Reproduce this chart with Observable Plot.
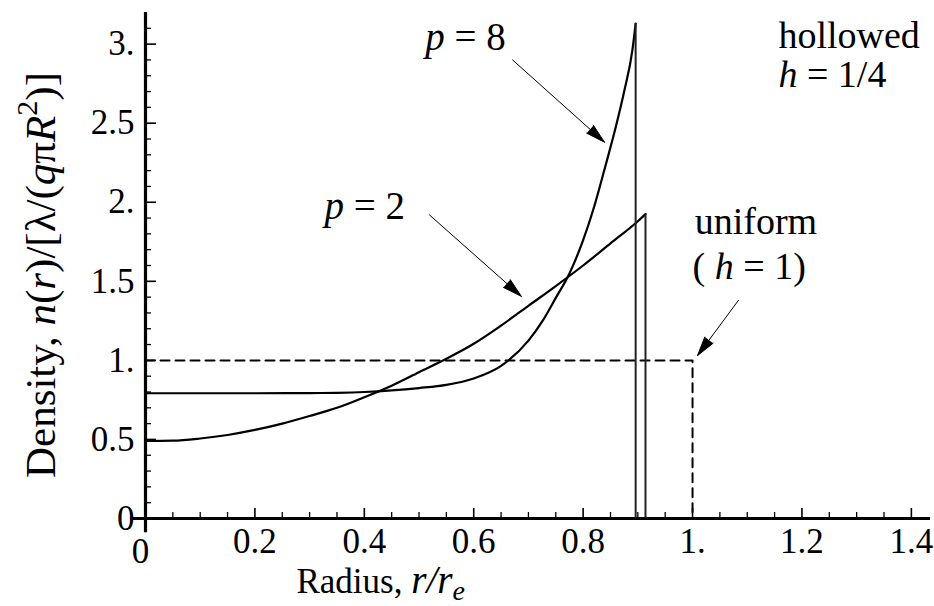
<!DOCTYPE html>
<html><head><meta charset="utf-8">
<script src="https://cdn.jsdelivr.net/npm/d3@7"></script>
<script src="https://cdn.jsdelivr.net/npm/@observablehq/plot@0.6"></script>
<style>
body{margin:0;background:#fff;}
#chart svg{display:block;}
#chart svg, #chart svg text, #chart svg tspan { font-family: "Liberation Serif", "DejaVu Serif", serif; }
</style></head><body><div id="chart"></div>
<script>
// ---- data ----
const radiusP2  = [0, 0.05, 0.1, 0.15, 0.2, 0.25, 0.3, 0.35, 0.4, 0.45, 0.5, 0.55, 0.6, 0.65, 0.7, 0.75, 0.8, 0.85, 0.9, 0.914];
const densityP2 = [0.49, 0.492, 0.506, 0.528, 0.56, 0.60, 0.648, 0.70, 0.767, 0.84, 0.925, 1.01, 1.105, 1.22, 1.345, 1.47, 1.60, 1.74, 1.88, 1.925];

const radiusP8  = [0, 0.1, 0.2, 0.3, 0.35, 0.4, 0.45, 0.5, 0.55, 0.6, 0.65, 0.7, 0.725, 0.75, 0.775, 0.8, 0.82, 0.84, 0.86, 0.875, 0.89, 0.896];
const densityP8 = [0.792, 0.792, 0.792, 0.793, 0.795, 0.80, 0.81, 0.825, 0.845, 0.885, 0.965, 1.125, 1.245, 1.395, 1.55, 1.76, 1.97, 2.22, 2.48, 2.70, 2.96, 3.13];

const radiusUniform  = [0, 1, 1];
const densityUniform = [1, 1, 0];

const xMajorTicks = [0, 0.2, 0.4, 0.6, 0.8, 1.0, 1.2, 1.4];
const xTickLabels = ["0", "0.2", "0.4", "0.6", "0.8", "1.", "1.2", "1.4"];
const xMinorTicks = [0.05, 0.1, 0.15, 0.25, 0.3, 0.35, 0.45, 0.5, 0.55, 0.65, 0.7, 0.75, 0.85, 0.9, 0.95, 1.05, 1.1, 1.15, 1.25, 1.3, 1.35];
const yMajorTicks = [0, 0.5, 1.0, 1.5, 2.0, 2.5, 3.0];
const yTickLabels = ["0", "0.5", "1.", "1.5", "2.", "2.5", "3."];
const yMinorTicks = [0.1, 0.2, 0.3, 0.4, 0.6, 0.7, 0.8, 0.9, 1.1, 1.2, 1.3, 1.4, 1.6, 1.7, 1.8, 1.9, 2.1, 2.2, 2.3, 2.4, 2.6, 2.7, 2.8, 2.9, 3.1];

// annotations ({..} italic, ^[..] superscript, _[..] subscript)
const centerLabels  = ["{p} = 8", "{p} = 2"];
const centerLabelX  = [0.585, 0.401];
const centerLabelY  = [3.04, 1.975];
const startLabels   = ["hollowed", "{h} = 1/4", "uniform", "( {h} = 1)"];
const startLabelX   = [1.157, 1.157, 1.004, 1.0];
const startLabelY   = [3.05, 2.805, 1.875, 1.59];

const arrowX1 = [0.671, 0.519, 1.084];
const arrowY1 = [2.90, 1.92, 1.38];
const arrowX2 = [0.839, 0.687, 1.009];
const arrowY2 = [2.38, 1.405, 1.03];

const xAxisExtent = [-0.027, 1.435];
const yAxisExtent = [-0.09, 3.2];

const xTitle = "Radius, {r/r}_[e]";
const yTitle = "Density, {n}({r})/[λ/({q}π{R}^[2])]";
const xTitleX = 0.43;
const yTitleY = 1.54;

// ---- build tables ----
const p2 = radiusP2.map((r, i) => ({r, n: densityP2[i]}));
const p8 = radiusP8.map((r, i) => ({r, n: densityP8[i]}));
const uni = radiusUniform.map((r, i) => ({r, n: densityUniform[i]}));
const drops = [p2[p2.length - 1], p8[p8.length - 1]];
const arrows = arrowX1.map((x1, i) => ({x1, y1: arrowY1[i], x2: arrowX2[i], y2: arrowY2[i]}));
const cLab = centerLabels.map((t, i) => ({t, x: centerLabelX[i], y: centerLabelY[i]}));
const sLab = startLabels.map((t, i) => ({t, x: startLabelX[i], y: startLabelY[i]}));

const font = "Liberation Serif";

const chart = Plot.plot({
  width: 934, height: 606,
  marginLeft: 145, marginRight: 4, marginTop: 12, marginBottom: 88,
  x: {domain: [0, 1.435]},
  y: {domain: [0, 3.2]},
  style: {fontFamily: font, fontSize: "32px", color: "black", background: "white", overflow: "visible"},
  marks: [
    // axis lines
    Plot.ruleY([0], {x1: xAxisExtent[0], x2: xAxisExtent[1], strokeWidth: 3.2, stroke: "black"}),
    Plot.ruleX([0], {y1: yAxisExtent[0], y2: yAxisExtent[1], strokeWidth: 3.2, stroke: "black"}),
    // inward ticks
    Plot.axisX(xMinorTicks, {tickSize: 6, dy: -6, text: null, label: null, strokeWidth: 1.3}),
    Plot.axisX(xMajorTicks.slice(1), {tickSize: 10, dy: -10, text: null, label: null, strokeWidth: 1.6}),
    Plot.axisY(yMinorTicks, {tickSize: 6, dx: 6, text: null, label: null, strokeWidth: 1.3}),
    Plot.axisY(yMajorTicks.slice(1), {tickSize: 11, dx: 11, text: null, label: null, strokeWidth: 1.6}),
    // tick labels
    Plot.axisX(xMajorTicks.slice(1), {tickSize: 0, tickPadding: 10, label: null, fontSize: 35, fontFamily: font,
      tickFormat: d => xTickLabels[xMajorTicks.indexOf(d)]}),
    Plot.axisX(xMajorTicks.slice(0, 1), {tickSize: 0, tickPadding: 20, dx: -5, label: null, fontSize: 35, fontFamily: font,
      tickFormat: d => xTickLabels[xMajorTicks.indexOf(d)]}),
    Plot.axisY(yMajorTicks, {tickSize: 0, tickPadding: 11, label: null, fontSize: 35, fontFamily: font,
      tickFormat: d => yTickLabels[yMajorTicks.indexOf(d)]}),
    // curves
    Plot.line(uni, {x: "r", y: "n", stroke: "black", strokeWidth: 2, strokeDasharray: "9,6"}),
    Plot.line(p2, {x: "r", y: "n", stroke: "black", strokeWidth: 2.2, curve: "monotone-x"}),
    Plot.line(p8, {x: "r", y: "n", stroke: "black", strokeWidth: 2.2, curve: "monotone-x"}),
    Plot.ruleX(drops, {x: "r", y1: 0, y2: "n", stroke: "#222", strokeWidth: 2}),
    // arrows
    Plot.arrow(arrows, {x1: "x1", y1: "y1", x2: "x2", y2: "y2", stroke: "black", fill: "black",
      strokeWidth: 1, headLength: 30, headAngle: 30}),
    // annotation texts
    Plot.text(cLab, {x: "x", y: "y", text: "t", textAnchor: "middle", fontSize: 39, fontFamily: font}),
    Plot.text(sLab, {x: "x", y: "y", text: "t", textAnchor: "start", fontSize: 38, fontFamily: font}),
    // axis titles
    Plot.text([xTitle], {x: xTitleX, frameAnchor: "bottom", textAnchor: "middle", lineAnchor: "bottom", dy: 74,
      text: d => d, fontSize: 35, fontFamily: font}),
    Plot.text([yTitle], {y: yTitleY, frameAnchor: "left", textAnchor: "middle", lineAnchor: "middle", dx: -104, rotate: -90,
      text: d => d, fontSize: 43, fontFamily: font})
  ]
});

// rich text: italics, superscripts, subscripts
d3.select(chart).selectAll("text").each(function () {
  const s = this.textContent;
  if (!/\{|\^\[|_\[/.test(s)) return;
  const fs = parseFloat(this.getAttribute("font-size")) || parseFloat(this.parentNode.getAttribute("font-size")) || 32;
  const parts = s.split(/(\{[^}]*\}|\^\[[^\]]*\]|_\[[^\]]*\])/).filter(p => p.length);
  const el = d3.select(this);
  const isXTitle = s === xTitle;
  el.text(null);
  let shift = 0;
  for (const p of parts) {
    let txt = p, style = "normal";
    if (p.startsWith("{")) { txt = p.slice(1, -1); style = "italic"; }
    else if (p.startsWith("^[")) { txt = p.slice(2, -1); style = "sup"; }
    else if (p.startsWith("_[")) { txt = p.slice(2, -1); style = "sub"; }
    const ts = el.append("tspan").text(txt);
    let target = 0;
    if (style === "italic") { ts.attr("font-style", "italic"); if (isXTitle) ts.attr("font-size", fs * 1.12); }
    if (style === "sup") { ts.attr("font-size", fs * 0.7); target = -0.42 * fs; }
    if (style === "sub") { ts.attr("font-size", fs * (isXTitle ? 0.8 : 0.7)); target = 0.2 * fs; ts.attr("font-style", "italic"); }
    if (target !== shift) { ts.attr("dy", target - shift); shift = target; }
  }
});

document.getElementById("chart").appendChild(chart);
</script>
</body></html>
